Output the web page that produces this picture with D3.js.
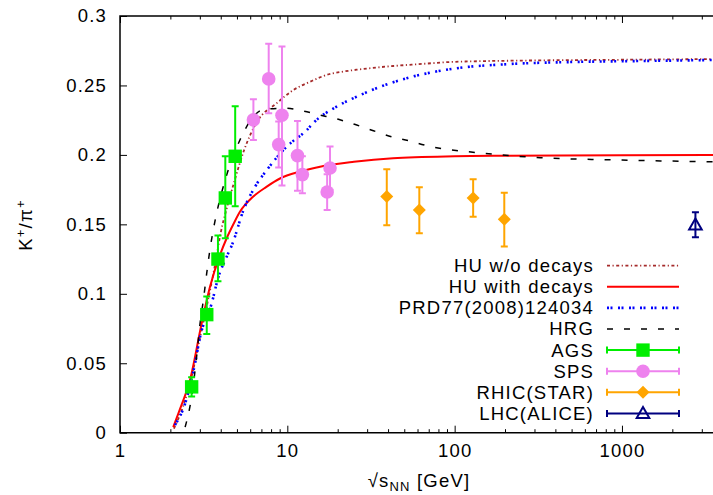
<!DOCTYPE html>
<html>
<head>
<meta charset="utf-8">
<script src="https://cdn.jsdelivr.net/npm/d3@7"></script>
<style>
  body { margin: 0; background: #fff; }
  text { font-family: "Liberation Sans", Arial, sans-serif; fill: #000; letter-spacing: 1.2px; }
</style>
</head>
<body>
<svg id="chart" width="713" height="495"></svg>
<script>
// model curves: [sqrt(sNN), K+/pi+]
var huNoDecays = [[2.1,0.003],[2.4,0.02],[2.7,0.042],[3.0,0.068],[3.3,0.091],[3.7,0.121],[4.0,0.144],[4.4,0.164],
    [4.8,0.18],[5.5,0.203],[6.6,0.224],[8.6,0.237],[10.9,0.2468],[13.7,0.2527],[17.2,0.2576],[21.6,0.26],
    [27.2,0.2616],[43,0.264],[59,0.2652],[100,0.267],[300,0.268],[1000,0.2685],[3500,0.269]];
var huDecays = [[2.08,0.004],[2.3,0.018],[2.62,0.038],[3.08,0.079],[3.45,0.105],[3.96,0.128],[4.34,0.14],
    [4.8,0.151],[5.21,0.159],[6.26,0.17],[7.5,0.177],[9.04,0.183],[11.9,0.188],[15.7,0.1915],[25,0.195],[42.8,0.1976],
    [100,0.199],[205,0.1994],[1000,0.1998],[3500,0.2]];
var prd77 = [[2.13,0.0055],[2.45,0.021],[2.81,0.05],[3.01,0.069],[3.53,0.093],[3.87,0.112],[4.34,0.1267],
    [4.7,0.136],[5.46,0.16],[6.41,0.177],[7.53,0.189],[9.92,0.206],[13.1,0.218],[14.3,0.223],[19.7,0.2347],
    [27.2,0.243],[35.8,0.249],[51.7,0.2552],[103,0.2624],[205,0.2653],[511,0.2669],[1282,0.2676],[3500,0.2683]];
var hrg = [[2.45,0.004],[2.68,0.026],[2.87,0.0547],[3.01,0.0788],[3.15,0.0955],[3.3,0.115],[3.45,0.132],
    [3.61,0.146],[3.78,0.158],[4.34,0.1855],[5.21,0.2107],[6.26,0.2275],[7.4,0.233],[9.7,0.2336],[12.2,0.2318],
    [15.7,0.2287],[20.2,0.2256],[26,0.2215],[32.7,0.2174],[42,0.2131],[54,0.21],[68,0.2067],[148,0.2012],
    [324,0.198],[1000,0.1963],[3500,0.195]];

// measurements
var agsX  = [2.68, 3.30, 3.85, 4.26, 4.88];
var agsY  = [0.033, 0.085, 0.125, 0.169, 0.199];
var agsLo = [0.026, 0.071, 0.109, 0.140, 0.163];
var agsHi = [0.040, 0.098, 0.142, 0.199, 0.235];

var spsX  = [6.27, 7.74, 8.88, 9.29, 11.5, 12.3, 17.3, 18.0];
var spsY  = [0.2252, 0.2547, 0.2074, 0.2285, 0.1995, 0.1858, 0.1733, 0.1906];
var spsLo = [0.2107, 0.230, 0.191, 0.178, 0.1742, 0.1724, 0.1603, 0.175];
var spsHi = [0.240, 0.280, 0.224, 0.278, 0.2244, 0.199, 0.186, 0.206];

var rhicX  = [39.3, 61.5, 129, 198];
var rhicY  = [0.170, 0.1603, 0.169, 0.1536];
var rhicLo = [0.1493, 0.1436, 0.1555, 0.134];
var rhicHi = [0.1897, 0.1767, 0.1825, 0.1728];

var lhcX  = [2748];
var lhcY  = [0.1495];
var lhcLo = [0.1407];
var lhcHi = [0.1587];

var xTicks = [1, 10, 100, 1000];
var yTicks = [0, 0.05, 0.1, 0.15, 0.2, 0.25, 0.3];

var plotLeft = 120, plotRight = 713, plotTop = 16, plotBottom = 432.7;
var fontSize = 18.5;

var svg = d3.select('#chart');
var x = d3.scaleLog().domain([1, 3500]).range([plotLeft, plotRight]);
var y = d3.scaleLinear().domain([0, 0.3]).range([plotBottom, plotTop]);

svg.append('defs').append('clipPath').attr('id', 'plotclip')
    .append('rect').attr('x', plotLeft).attr('y', plotTop).attr('width', plotRight - plotLeft).attr('height', plotBottom - plotTop);

// minor/major ticks, bottom and mirrored on top
var minorX = [];
[1, 10, 100, 1000].forEach(function(d) {
    for (var k = 2; k <= 9; k++) { if (d * k <= 3500) minorX.push(d * k); }
});
var bottomAxis = svg.append('g').attr('transform', 'translate(0,' + plotBottom + ')');
bottomAxis.append('g').call(d3.axisBottom(x).tickValues(minorX).tickSize(-3.5).tickFormat(''));
bottomAxis.append('g').call(d3.axisBottom(x).tickValues(xTicks).tickSize(-7).tickFormat(d3.format('d')).tickPadding(11));
var topAxis = svg.append('g').attr('transform', 'translate(0,' + plotTop + ')');
topAxis.append('g').call(d3.axisTop(x).tickValues(minorX).tickSize(-3.5).tickFormat(''));
topAxis.append('g').call(d3.axisTop(x).tickValues(xTicks).tickSize(-7).tickFormat(''));
var leftAxis = svg.append('g').attr('transform', 'translate(' + plotLeft + ',0)');
leftAxis.call(d3.axisLeft(y).tickValues(yTicks).tickSize(-7).tickPadding(13).tickFormat(d3.format('')));

svg.selectAll('.domain').remove();
svg.selectAll('.tick line').attr('stroke', '#000').attr('stroke-width', 1);
svg.selectAll('.tick text').attr('font-size', fontSize).attr('font-family', '"Liberation Sans", Arial, sans-serif').attr('fill', '#000');
bottomAxis.selectAll('.tick text').attr('dy', '0.71em');

// frame
svg.append('path').attr('d', 'M' + (plotRight + 2) + ',' + plotTop + 'H' + plotLeft + 'V' + plotBottom + 'H' + (plotRight + 2))
    .attr('fill', 'none').attr('stroke', '#000').attr('stroke-width', 1.5);

var plot = svg.append('g').attr('clip-path', 'url(#plotclip)');
var line = d3.line().x(function(d) { return x(d[0]); }).y(function(d) { return y(d[1]); }).curve(d3.curveMonotoneX);

var curves = [
    { name: 'HU w/o decays', data: huNoDecays, color: '#a52a2a', dash: '3,2.5,1.2,2.5', width: 1.8 },
    { name: 'HU with decays', data: huDecays, color: '#ff0000', dash: null, width: 2 },
    { name: 'PRD77(2008)124034', data: prd77, color: '#0000ff', dash: '2,1.5,2,5.5', width: 2.6 },
    { name: 'HRG', data: hrg, color: '#000000', dash: '6,11', width: 1.5 }
];
curves.forEach(function(c) {
    plot.append('path').attr('d', line(c.data)).attr('fill', 'none')
        .attr('stroke', c.color).attr('stroke-width', c.width).attr('stroke-dasharray', c.dash);
});

function drawMarker(g, shape, cx, cy, color) {
    if (shape == 'square') {
        g.append('rect').attr('x', cx - 6.7).attr('y', cy - 6.7).attr('width', 13.4).attr('height', 13.4).attr('fill', color);
    } else if (shape == 'circle') {
        g.append('circle').attr('cx', cx).attr('cy', cy).attr('r', 6.8).attr('fill', color);
    } else if (shape == 'diamond') {
        g.append('path').attr('d', 'M' + cx + ',' + (cy - 6.5) + 'L' + (cx + 6.5) + ',' + cy + 'L' + cx + ',' + (cy + 6.5) + 'L' + (cx - 6.5) + ',' + cy + 'Z').attr('fill', color);
    } else {
        g.append('path').attr('d', 'M' + cx + ',' + (cy - 6.5) + 'L' + (cx + 6.3) + ',' + (cy + 4.5) + 'L' + (cx - 6.3) + ',' + (cy + 4.5) + 'Z')
            .attr('fill', 'none').attr('stroke', color).attr('stroke-width', 2);
    }
}

var sets = [
    { name: 'AGS', xs: agsX, ys: agsY, lo: agsLo, hi: agsHi, color: '#00ee00', shape: 'square' },
    { name: 'SPS', xs: spsX, ys: spsY, lo: spsLo, hi: spsHi, color: '#ee82ee', shape: 'circle' },
    { name: 'RHIC(STAR)', xs: rhicX, ys: rhicY, lo: rhicLo, hi: rhicHi, color: '#ffa500', shape: 'diamond' },
    { name: 'LHC(ALICE)', xs: lhcX, ys: lhcY, lo: lhcLo, hi: lhcHi, color: '#000080', shape: 'triangle' }
];
sets.forEach(function(s) {
    var g = plot.append('g');
    s.xs.forEach(function(v, i) {
        var cx = x(v), y0 = y(s.lo[i]), y1 = y(s.hi[i]);
        g.append('path').attr('d', 'M' + cx + ',' + y0 + 'V' + y1 + 'M' + (cx - 3.5) + ',' + y0 + 'H' + (cx + 3.5) + 'M' + (cx - 3.5) + ',' + y1 + 'H' + (cx + 3.5))
            .attr('stroke', s.color).attr('stroke-width', 2).attr('fill', 'none');
    });
    s.xs.forEach(function(v, i) {
        drawMarker(g, s.shape, x(v), y(s.ys[i]), s.color);
    });
});

// legend
var legX = 594, legL0 = 607, legL1 = 679, legY0 = 265.7, legDy = 21.1;
var leg = svg.append('g');
curves.concat(sets).forEach(function(item, i) {
    var ly = legY0 + i * legDy;
    leg.append('text').attr('x', legX).attr('y', ly).attr('dy', '0.35em').attr('text-anchor', 'end')
        .attr('font-size', fontSize).text(item.name);
    if (item.data) {
        leg.append('line').attr('x1', legL0).attr('x2', legL1).attr('y1', ly).attr('y2', ly)
            .attr('stroke', item.color).attr('stroke-width', item.width).attr('stroke-dasharray', item.dash);
    } else {
        leg.append('path').attr('d', 'M' + legL0 + ',' + ly + 'H' + legL1 + 'M' + legL0 + ',' + (ly - 3.5) + 'V' + (ly + 3.5) + 'M' + legL1 + ',' + (ly - 3.5) + 'V' + (ly + 3.5))
            .attr('stroke', item.color).attr('stroke-width', 2).attr('fill', 'none');
        drawMarker(leg, item.shape, (legL0 + legL1) / 2, ly, item.color);
    }
});

// axis titles
var xt = svg.append('text').attr('x', 419).attr('y', 487).attr('text-anchor', 'middle').attr('font-size', fontSize);
xt.append('tspan').text('\u221As');
xt.append('tspan').attr('font-size', 13).attr('dy', 4).text('NN');
xt.append('tspan').attr('dy', -4).text(' [GeV]');

var yt = svg.append('text').attr('transform', 'translate(32,225) rotate(-90)').attr('text-anchor', 'middle').attr('font-size', fontSize);
yt.append('tspan').text('K');
yt.append('tspan').attr('font-size', 13).attr('dy', -7).text('+');
yt.append('tspan').attr('dy', 7).text('/\u03C0');
yt.append('tspan').attr('font-size', 13).attr('dy', -7).text('+');
</script>
</body>
</html>
